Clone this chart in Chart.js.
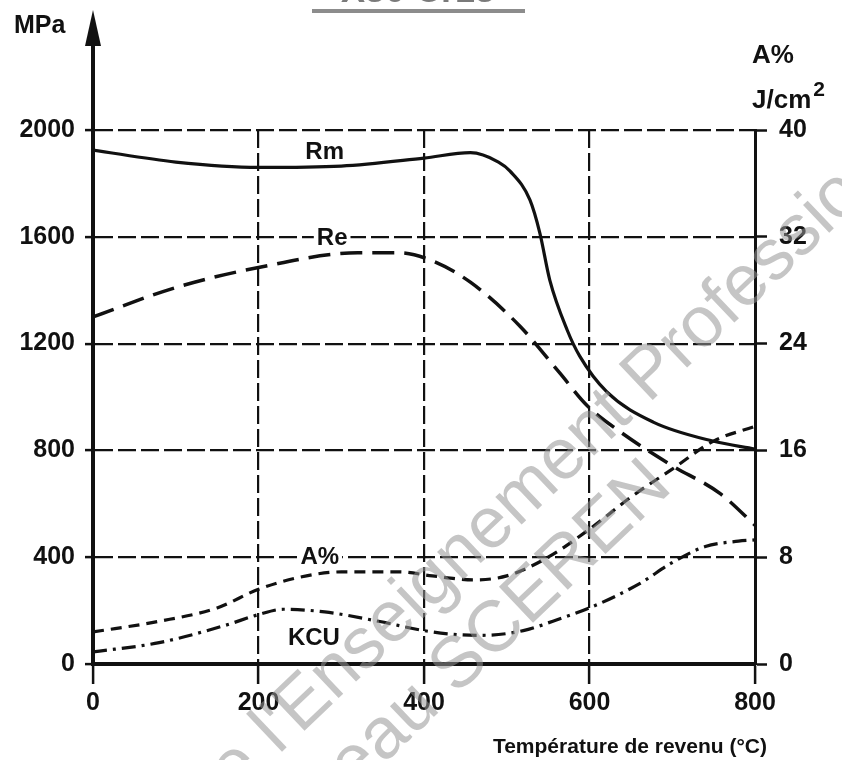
<!DOCTYPE html>
<html>
<head>
<meta charset="utf-8">
<script src="https://cdn.jsdelivr.net/npm/chart.js@4.4.1/dist/chart.umd.min.js"></script>
<style>
  html, body { margin: 0; background: #fff; }
  canvas { display: block; }
</style>
</head>
<body>
<canvas id="c" width="842" height="760"></canvas>
<script>
const F = "'Liberation Sans', Arial, sans-serif";
const INK = "#111";

// temperatures (°C) and values
const rmT = [0, 100, 200, 300, 400, 456, 490, 504, 528, 540, 552, 573, 588, 621, 677, 749, 800];
const rmV = [1925, 1880, 1860, 1865, 1895, 1915, 1880, 1846, 1738, 1614, 1438, 1251, 1154, 1019, 906, 835, 805];

const reT = [0, 100, 200, 320, 370, 410, 456, 516, 564, 597, 637, 697, 758, 800];
const reV = [1300, 1410, 1485, 1540, 1540, 1510, 1430, 1265, 1090, 968, 870, 748, 638, 520];

// A% (right axis, %)
const aT = [0, 80, 150, 200, 250, 300, 370, 410, 460, 500, 550, 600, 650, 700, 750, 800];
const aV = [2.4, 3.2, 4.2, 5.6, 6.5, 6.9, 6.9, 6.6, 6.3, 6.6, 8.0, 10.1, 12.5, 14.6, 16.7, 17.8];

// KCU (right axis, J/cm²)
const kT = [0, 80, 160, 200, 230, 280, 345, 400, 440, 470, 520, 560, 600, 660, 700, 740, 780, 800];
const kV = [0.9, 1.6, 2.9, 3.7, 4.1, 3.9, 3.2, 2.5, 2.2, 2.15, 2.5, 3.3, 4.2, 6.0, 7.6, 8.8, 9.2, 9.3];

const tempTicks = [0, 200, 400, 600, 800];
const mpaTicks = [0, 400, 800, 1200, 1600, 2000];
const rightTicks = [0, 8, 16, 24, 32, 40];

const pts = (t, v) => t.map((x, i) => ({ x, y: v[i] }));
const fixTicks = (arr) => (s) => (s.ticks = arr.map((value) => ({ value })));
const font = (size) => ({ family: F, size, weight: "bold" });
const plain = (v) => String(v);

function label(ctx, txt, x, y, size, bg) {
  ctx.font = `bold ${size}px ${F}`;
  ctx.textAlign = "center";
  ctx.textBaseline = "middle";
  if (bg) {
    const w = ctx.measureText(txt).width + 6;
    ctx.fillStyle = "#fff";
    ctx.fillRect(x - w / 2, y - size / 2, w, size);
  }
  ctx.fillStyle = INK;
  ctx.fillText(txt, x, y);
}

const deco = {
  id: "deco",
  afterDatasetsDraw(chart) {
    const { ctx } = chart;
    const x = chart.scales.x, y = chart.scales.y;
    ctx.save();
    label(ctx, "Rm", x.getPixelForValue(280), y.getPixelForValue(1918), 24, false);
    label(ctx, "Re", x.getPixelForValue(289), y.getPixelForValue(1595), 24, true);
    label(ctx, "A%", x.getPixelForValue(274), y.getPixelForValue(400), 24, true);
    label(ctx, "KCU", x.getPixelForValue(267), y.getPixelForValue(97), 24, false);
    ctx.restore();
  },
  afterDraw(chart) {
    const { ctx, chartArea } = chart;
    const x0 = chart.scales.x.getPixelForValue(0);
    ctx.save();

    // y axis continues up into an arrow
    ctx.strokeStyle = INK;
    ctx.fillStyle = INK;
    ctx.lineWidth = 4;
    ctx.beginPath();
    ctx.moveTo(x0, chartArea.top + 2);
    ctx.lineTo(x0, 40);
    ctx.stroke();
    ctx.beginPath();
    ctx.moveTo(x0, 10);
    ctx.lineTo(x0 - 8, 46);
    ctx.lineTo(x0 + 8, 46);
    ctx.closePath();
    ctx.fill();

    // axis titles
    ctx.textBaseline = "alphabetic";
    ctx.textAlign = "left";
    ctx.font = `bold 25px ${F}`;
    ctx.fillText("MPa", 14, 33);
    ctx.font = `bold 26px ${F}`;
    ctx.fillText("A%", 752, 63);
    ctx.fillText("J/cm", 752, 108);
    const w = ctx.measureText("J/cm").width;
    ctx.font = `bold 21px ${F}`;
    ctx.fillText("2", 754 + w, 96);
    ctx.textAlign = "right";
    ctx.font = `bold 21px ${F}`;
    ctx.fillText("Température de revenu (°C)", 767, 753);

    // title cut by the top edge
    ctx.fillStyle = "#7a7a7a";
    ctx.textAlign = "center";
    ctx.font = `bold 36px ${F}`;
    ctx.fillText("X30 Cr13", 418, 2);
    ctx.fillStyle = "#8c8c8c";
    ctx.fillRect(312, 9, 213, 4);

    // watermark
    ctx.fillStyle = "rgba(150,150,150,0.55)";
    ctx.textAlign = "left";
    ctx.font = `72px ${F}`;
    const a = (-43.5 * Math.PI) / 180;
    ctx.save();
    ctx.translate(206, 824);
    ctx.rotate(a);
    ctx.fillText("de l'Enseignement Professionnel", 0, 0);
    ctx.restore();
    ctx.save();
    ctx.translate(282, 861);
    ctx.rotate(a);
    ctx.fillText("réseau SCEREN", 0, 0);
    ctx.restore();

    ctx.restore();
  },
};

new Chart(document.getElementById("c"), {
  type: "line",
  data: {
    datasets: [
      { label: "Rm", data: pts(rmT, rmV), yAxisID: "y", borderColor: INK, borderWidth: 3.2, borderDash: [] },
      { label: "Re", data: pts(reT, reV), yAxisID: "y", borderColor: INK, borderWidth: 3.5, borderDash: [22, 10] },
      { label: "A%", data: pts(aT, aV), yAxisID: "y2", borderColor: INK, borderWidth: 3.2, borderDash: [11, 7] },
      { label: "KCU", data: pts(kT, kV), yAxisID: "y2", borderColor: INK, borderWidth: 3.2, borderDash: [14, 6, 3, 6] },
    ],
  },
  options: {
    responsive: false,
    animation: false,
    devicePixelRatio: 1,
    layout: { padding: { top: 130, left: 0, right: 0, bottom: 0 } },
    plugins: { legend: { display: false }, tooltip: { enabled: false } },
    elements: {
      point: { radius: 0 },
      line: { cubicInterpolationMode: "monotone", fill: false },
    },
    scales: {
      x: {
        type: "linear",
        min: 0,
        max: 800,
        afterBuildTicks: fixTicks(tempTicks),
        afterFit: (s) => (s.height = 96),
        ticks: { color: INK, font: font(25), padding: 4, maxRotation: 0, callback: plain },
        grid: { color: INK, lineWidth: 2.2, tickLength: 20, tickWidth: 2.5, tickColor: INK },
        border: { display: true, color: INK, width: 4, dash: [18, 5] },
      },
      y: {
        position: "left",
        min: 0,
        max: 2000,
        afterBuildTicks: fixTicks(mpaTicks),
        afterFit: (s) => (s.width = 93),
        ticks: { color: INK, font: font(25), padding: 10, callback: plain },
        grid: { color: INK, lineWidth: 2.2, tickLength: 8, tickWidth: 2.5, tickColor: INK },
        border: { display: true, color: INK, width: 4, dash: [18, 5] },
      },
      y2: {
        position: "right",
        min: 0,
        max: 40,
        afterBuildTicks: fixTicks(rightTicks),
        afterFit: (s) => (s.width = 87),
        ticks: { color: INK, font: font(25), padding: 12, callback: plain },
        grid: { drawOnChartArea: false, tickLength: 12, tickWidth: 2.5, tickColor: INK },
        border: { display: true, color: INK, width: 3 },
      },
    },
  },
  plugins: [deco],
});
</script>
</body>
</html>
